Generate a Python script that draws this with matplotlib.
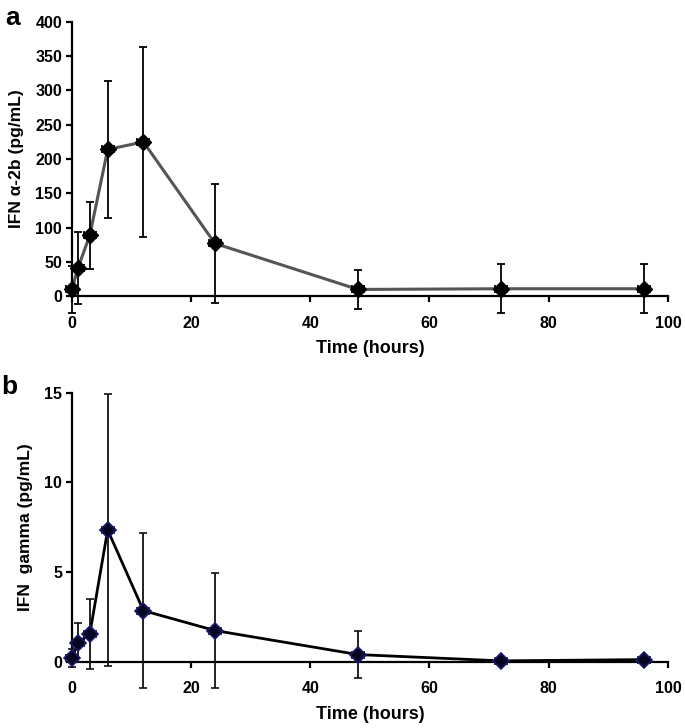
import matplotlib
matplotlib.use('Agg')
import matplotlib.pyplot as plt

plt.rcParams['font.family'] = ['Liberation Sans', 'DejaVu Sans']
plt.rcParams['font.weight'] = 'bold'

# ── data ────────────────────────────────────────────────────────────────────
time_h = [0, 1, 3, 6, 12, 24, 48, 72, 96]
time_err = [1.0] * 9

ifn_a2b = [10, 41, 89, 214, 225, 77, 10, 11, 11]
ifn_a2b_err = [34, 52, 49, 100, 139, 87, 29, 36, 36]

ifn_gamma = [0.2, 1.06, 1.55, 7.35, 2.85, 1.74, 0.4, 0.05, 0.12]
ifn_gamma_err = [0.5, 1.1, 1.95, 7.6, 4.3, 3.2, 1.3, 0.1, 0.1]

x_ticks = [0, 20, 40, 60, 80, 100]


def style_axis(ax, xpad, ypad):
    for side in ('top', 'right'):
        ax.spines[side].set_visible(False)
    for side in ('left', 'bottom'):
        ax.spines[side].set_linewidth(1.6)
    ax.tick_params(direction='out', length=4, width=1.6, labelsize=11.5)
    ax.tick_params(axis='x', pad=xpad)
    ax.tick_params(axis='y', pad=ypad)
    for lab in ax.get_xticklabels() + ax.get_yticklabels():
        lab.set_fontweight('bold')


fig = plt.figure(figsize=(6.85, 7.28), dpi=100)

# ── panel a ─────────────────────────────────────────────────────────────────
ax1 = fig.add_axes([0.105, 0.593, 0.870, 0.377])
ax1.plot(time_h, ifn_a2b, color='#555555', lw=2.2, zorder=2)
ax1.errorbar(time_h, ifn_a2b, yerr=ifn_a2b_err, xerr=time_err, fmt='D',
             color='black', ms=8, ecolor='black', elinewidth=1.3,
             capsize=3, capthick=1.3, zorder=3, clip_on=False)
ax1.set_xlim(0, 100)
ax1.set_ylim(0, 400)
ax1.set_xticks(x_ticks)
ax1.set_yticks(range(0, 401, 50))
style_axis(ax1, xpad=10, ypad=3)
ax1.set_xlabel('Time (hours)', fontsize=13, fontweight='bold', labelpad=7)
ax1.set_ylabel('IFN α-2b (pg/mL)', fontsize=12.5, fontweight='bold', labelpad=8)
fig.text(0.008, 0.975, 'a', fontsize=19, fontweight='bold', va='center')

# ── panel b ─────────────────────────────────────────────────────────────────
ax2 = fig.add_axes([0.105, 0.091, 0.870, 0.3696])
ax2.plot(time_h, ifn_gamma, color='black', lw=2.0, zorder=2)
ax2.errorbar(time_h, ifn_gamma, yerr=ifn_gamma_err, xerr=time_err, fmt='D',
             color='black', mfc='#050520', mec='#1a1a70', mew=1.2, ms=8,
             ecolor='#111111', elinewidth=1.3, capsize=3, capthick=1.3,
             zorder=3, clip_on=False)
ax2.set_xlim(0, 100)
ax2.set_ylim(0, 15)
ax2.set_xticks(x_ticks)
ax2.set_yticks([0, 5, 10, 15])
style_axis(ax2, xpad=10, ypad=3)
ax2.set_xlabel('Time (hours)', fontsize=13, fontweight='bold', labelpad=7)
ax2.set_ylabel('IFN  gamma (pg/mL)', fontsize=12.5, fontweight='bold', labelpad=8)
fig.text(0.002, 0.468, 'b', fontsize=19, fontweight='bold', va='center')

fig.savefig('out.png', dpi=100)
